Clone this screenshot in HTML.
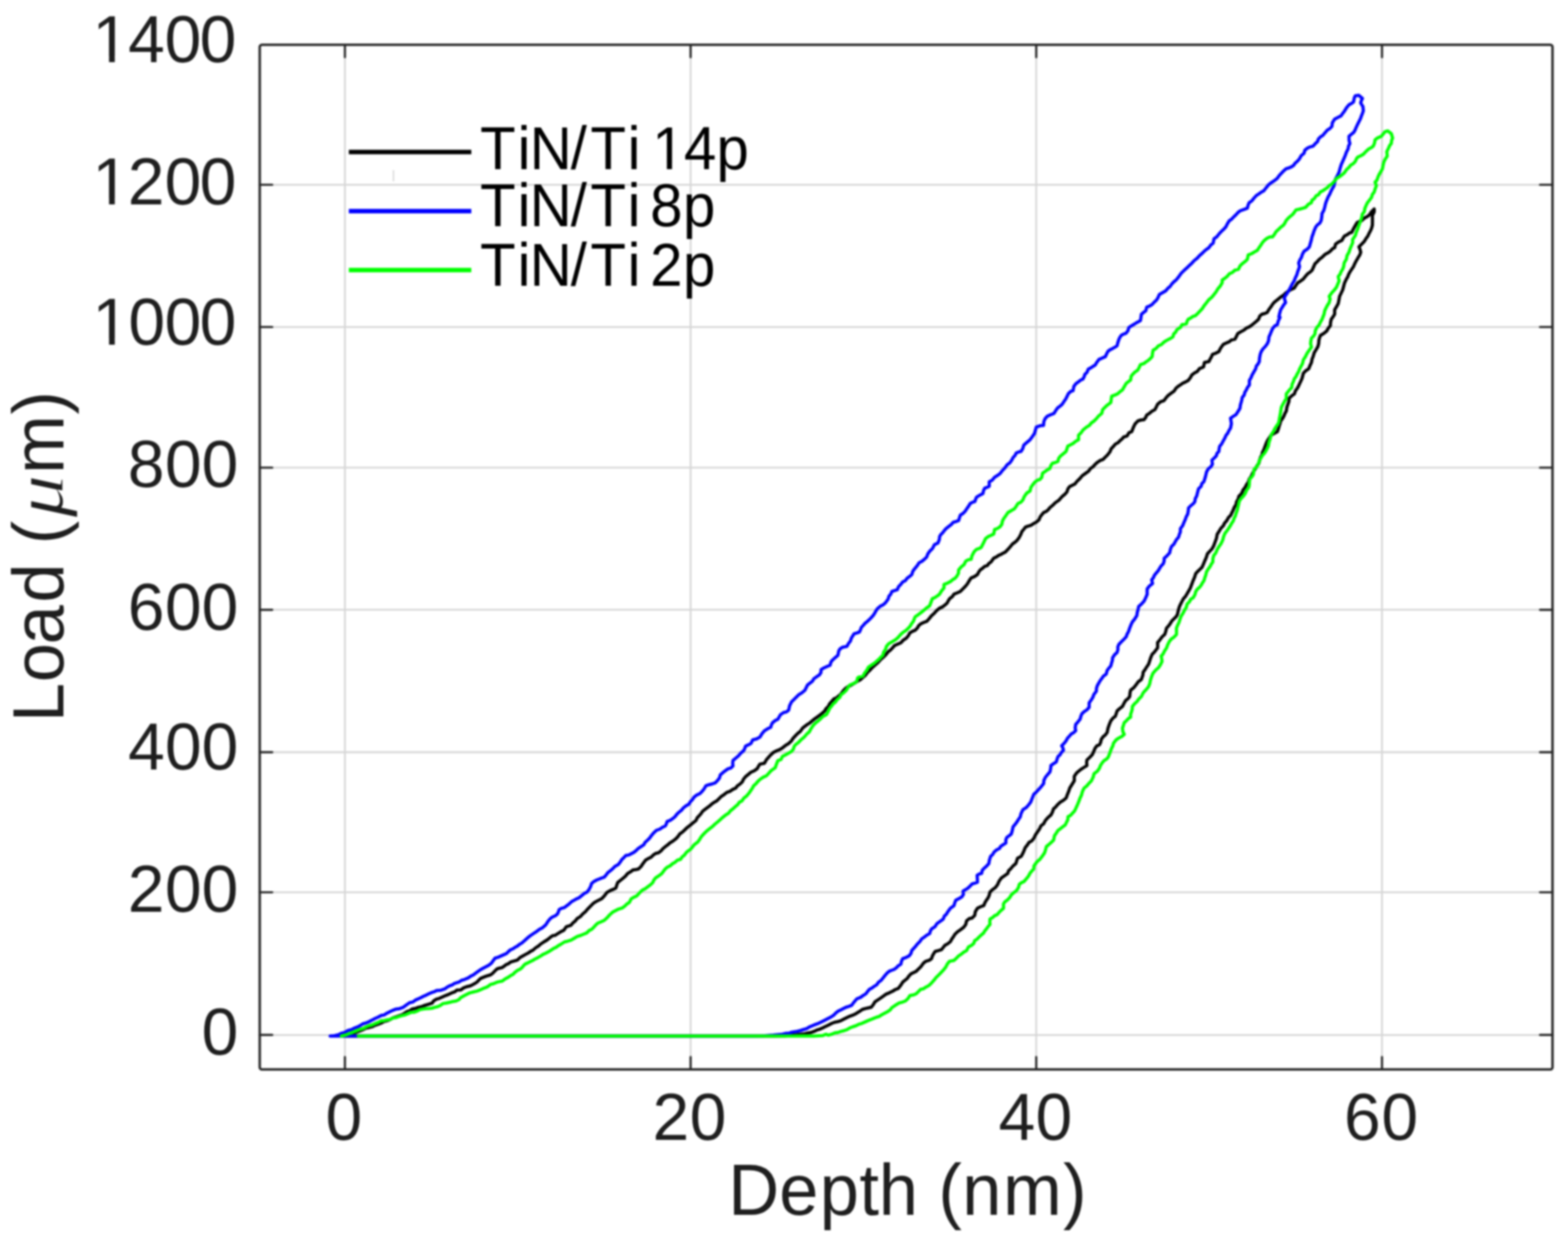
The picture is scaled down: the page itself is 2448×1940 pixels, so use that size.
<!DOCTYPE html>
<html lang="en"><head><meta charset="utf-8"><title>Load vs Depth</title>
<style>html,body{margin:0;padding:0;background:#fff;}body{width:2448px;height:1940px;overflow:hidden;}svg{display:block;}text{font-family:"Liberation Sans",sans-serif;fill:#1e1e1e;font-kerning:none;}.tk{font-size:103px;}.al{font-size:110px;}.lg{font-size:91px;fill:#000;}.mu{font-family:"Liberation Serif",serif;font-style:italic;font-size:104px;stroke:#fff;stroke-width:1.2px;paint-order:fill stroke;}</style></head><body>
<svg xmlns="http://www.w3.org/2000/svg" width="2448" height="1940" viewBox="0 0 2448 1940">
<defs><filter id="b" x="-2%" y="-2%" width="104%" height="104%" color-interpolation-filters="sRGB"><feGaussianBlur stdDeviation="1.4"/></filter></defs>
<rect x="0" y="0" width="2448" height="1940" fill="#ffffff"/>
<g filter="url(#b)">
<rect x="-20" y="-20" width="2488" height="1980" fill="#ffffff"/>
<g stroke="#d6d6d6" stroke-width="2.8" fill="none">
<line x1="538.5" y1="69.8" x2="538.5" y2="1669.2"/>
<line x1="1078.2" y1="69.8" x2="1078.2" y2="1669.2"/>
<line x1="1617.8" y1="69.8" x2="1617.8" y2="1669.2"/>
<line x1="2157.6" y1="69.8" x2="2157.6" y2="1669.2"/>
<line x1="405.5" y1="288.4" x2="2423.8" y2="288.4"/>
<line x1="405.5" y1="510.4" x2="2423.8" y2="510.4"/>
<line x1="405.5" y1="729.9" x2="2423.8" y2="729.9"/>
<line x1="405.5" y1="951.7" x2="2423.8" y2="951.7"/>
<line x1="405.5" y1="1174.0" x2="2423.8" y2="1174.0"/>
<line x1="405.5" y1="1392.6" x2="2423.8" y2="1392.6"/>
<line x1="405.5" y1="1615.3" x2="2423.8" y2="1615.3"/>
</g>
<path d="M536.0,1617.0 L541.0,1615.8 L548.1,1613.5 L553.6,1611.8 L557.5,1610.7 L562.1,1609.0 L566.4,1607.2 L571.5,1604.6 L576.2,1603.7 L581.4,1602.3 L585.2,1600.3 L590.2,1598.7 L595.2,1596.7 L599.5,1594.3 L604.3,1593.1 L609.2,1591.2 L613.8,1588.4 L618.3,1587.2 L623.8,1585.2 L627.5,1584.0 L632.4,1580.9 L635.8,1578.6 L639.4,1577.7 L643.9,1574.7 L649.3,1573.7 L653.4,1572.1 L657.7,1571.2 L662.0,1569.5 L667.5,1567.8 L674.5,1565.7 L677.0,1562.2 L681.5,1559.4 L685.6,1558.3 L691.8,1555.5 L695.6,1553.8 L700.7,1551.8 L705.2,1549.7 L709.6,1548.2 L713.4,1545.2 L719.2,1545.1 L723.7,1541.9 L728.5,1540.0 L734.0,1538.7 L737.7,1536.9 L741.3,1535.0 L744.7,1532.7 L747.5,1529.8 L750.3,1527.1 L753.8,1525.6 L758.8,1523.6 L765.8,1521.5 L769.3,1518.9 L772.8,1515.2 L776.1,1512.1 L779.8,1511.0 L783.3,1510.4 L786.9,1508.1 L790.2,1505.6 L793.9,1503.9 L796.8,1501.7 L800.9,1500.4 L807.9,1498.3 L811.3,1494.9 L814.9,1492.7 L820.0,1489.9 L824.7,1487.4 L828.0,1485.1 L832.1,1483.0 L836.0,1479.5 L840.8,1476.4 L844.0,1473.5 L849.2,1470.0 L854.2,1467.0 L859.0,1463.1 L862.6,1460.4 L866.8,1459.8 L870.2,1457.5 L875.3,1454.3 L880.1,1451.9 L884.3,1446.3 L891.3,1444.2 L894.5,1440.4 L897.7,1437.8 L901.1,1433.7 L906.1,1430.5 L909.6,1426.6 L914.0,1422.8 L918.0,1418.2 L922.2,1414.0 L926.4,1409.8 L929.6,1407.6 L933.4,1405.6 L939.5,1402.5 L943.3,1398.5 L947.5,1392.9 L952.0,1390.3 L956.4,1388.4 L961.5,1385.9 L963.1,1381.0 L964.3,1377.5 L968.1,1374.4 L971.3,1371.9 L976.3,1367.7 L979.8,1363.4 L984.8,1360.4 L988.2,1357.8 L992.3,1357.3 L996.6,1356.4 L1000.7,1352.5 L1003.7,1348.0 L1007.9,1342.4 L1011.5,1340.3 L1016.3,1338.1 L1020.5,1333.9 L1024.3,1331.8 L1027.7,1331.1 L1031.7,1328.3 L1035.1,1324.4 L1038.8,1321.3 L1042.6,1318.5 L1045.8,1315.7 L1050.7,1312.6 L1055.6,1308.7 L1058.7,1305.3 L1061.2,1301.6 L1065.9,1298.3 L1069.7,1294.6 L1073.6,1290.9 L1078.1,1287.6 L1082.0,1284.2 L1086.5,1280.6 L1088.8,1275.9 L1092.2,1272.4 L1094.9,1269.3 L1096.5,1266.7 L1100.0,1263.7 L1103.6,1261.0 L1108.0,1257.8 L1111.4,1254.7 L1114.7,1252.4 L1119.0,1250.0 L1122.6,1246.4 L1126.3,1242.8 L1130.2,1240.3 L1134.9,1236.6 L1139.5,1235.1 L1144.3,1231.9 L1148.6,1230.0 L1151.0,1226.7 L1155.5,1223.5 L1158.9,1220.2 L1160.7,1216.2 L1163.9,1212.2 L1169.1,1208.0 L1172.4,1205.2 L1177.5,1203.0 L1182.2,1199.6 L1183.9,1196.4 L1186.4,1192.6 L1193.4,1191.2 L1196.4,1185.9 L1200.4,1181.3 L1203.6,1177.9 L1207.5,1174.3 L1213.1,1171.5 L1217.3,1169.9 L1221.5,1167.3 L1226.0,1163.7 L1231.3,1160.3 L1235.6,1156.3 L1238.2,1152.2 L1242.6,1147.6 L1245.9,1144.3 L1249.8,1141.2 L1253.2,1136.2 L1256.6,1133.6 L1259.7,1131.2 L1264.0,1128.5 L1267.9,1125.2 L1271.7,1122.0 L1275.9,1119.1 L1279.1,1116.7 L1282.3,1114.3 L1287.5,1109.7 L1289.4,1106.2 L1293.6,1102.1 L1295.1,1098.6 L1298.8,1094.3 L1301.8,1090.8 L1306.1,1089.0 L1310.0,1085.8 L1313.4,1082.5 L1316.3,1078.3 L1319.8,1074.6 L1323.9,1071.7 L1329.5,1069.0 L1334.1,1066.1 L1338.2,1063.6 L1343.2,1060.8 L1347.0,1057.3 L1351.0,1054.0 L1354.7,1049.1 L1358.7,1045.4 L1362.1,1041.6 L1366.9,1037.4 L1370.4,1034.4 L1374.3,1030.0 L1378.3,1026.4 L1383.0,1021.9 L1386.7,1017.3 L1390.2,1014.6 L1393.9,1010.6 L1396.6,1007.5 L1401.2,1005.5 L1406.4,1003.3 L1410.6,998.8 L1414.8,996.2 L1418.3,992.0 L1420.4,987.8 L1425.0,985.1 L1428.9,983.6 L1432.3,980.0 L1434.4,976.3 L1437.3,973.8 L1442.1,971.5 L1447.1,969.6 L1450.6,965.6 L1454.2,961.1 L1458.4,957.4 L1462.6,952.7 L1466.6,949.4 L1471.0,947.4 L1475.2,944.3 L1478.7,941.2 L1480.8,937.2 L1482.8,934.2 L1487.2,930.7 L1489.3,927.4 L1493.9,925.5 L1499.1,923.2 L1503.1,919.3 L1507.5,914.8 L1510.3,911.3 L1513.4,906.0 L1516.0,902.1 L1521.3,899.9 L1526.1,896.6 L1527.9,892.9 L1530.3,889.6 L1532.9,887.7 L1537.5,883.9 L1541.6,882.6 L1543.5,879.7 L1547.2,877.0 L1551.4,871.3 L1555.6,869.2 L1559.4,866.6 L1562.3,865.5 L1566.9,862.9 L1569.7,861.5 L1573.7,857.3 L1577.8,852.6 L1580.9,848.9 L1584.2,846.6 L1587.9,843.3 L1591.3,838.7 L1593.8,833.9 L1595.4,829.6 L1598.4,826.0 L1601.1,822.6 L1604.5,821.3 L1609.5,819.8 L1614.2,816.9 L1617.9,814.9 L1622.1,811.3 L1623.9,806.9 L1626.5,803.3 L1629.2,800.1 L1633.3,798.2 L1636.2,795.9 L1639.3,792.1 L1643.2,788.9 L1647.4,784.7 L1653.1,780.8 L1655.8,777.6 L1658.7,774.5 L1662.7,771.2 L1665.7,767.8 L1667.3,763.0 L1669.9,759.4 L1674.4,757.2 L1678.3,755.2 L1681.2,751.5 L1686.2,746.6 L1689.6,742.5 L1694.3,739.1 L1699.4,735.5 L1702.5,731.3 L1706.4,728.5 L1710.1,724.3 L1713.4,721.5 L1717.8,718.6 L1721.9,717.2 L1725.3,713.7 L1728.9,710.2 L1733.0,705.0 L1734.7,700.5 L1738.7,696.2 L1741.4,693.1 L1745.5,690.9 L1748.5,687.8 L1752.2,684.6 L1754.2,682.1 L1759.7,680.3 L1762.5,675.4 L1766.8,673.7 L1768.2,670.2 L1769.6,666.7 L1772.0,661.8 L1776.6,656.9 L1781.3,655.5 L1786.1,654.9 L1788.5,651.9 L1790.3,647.9 L1794.3,645.2 L1798.4,641.9 L1803.0,639.4 L1805.1,635.5 L1807.2,631.0 L1811.8,627.1 L1817.0,625.4 L1820.8,620.4 L1824.0,617.0 L1829.7,612.8 L1833.0,610.4 L1836.2,605.6 L1839.5,602.9 L1842.4,601.0 L1846.7,598.0 L1850.9,596.1 L1855.1,593.8 L1858.4,589.5 L1860.7,585.3 L1864.8,582.1 L1869.2,579.7 L1872.5,575.4 L1879.0,572.7 L1880.4,565.7 L1887.4,564.3 L1889.3,560.4 L1891.4,556.7 L1893.0,553.0 L1898.0,551.3 L1902.9,548.8 L1904.8,544.9 L1906.7,541.8 L1909.9,537.6 L1914.1,535.5 L1919.1,533.4 L1922.5,530.6 L1928.1,529.2 L1930.2,525.3 L1932.4,520.7 L1936.6,518.1 L1942.2,515.1 L1946.0,512.0 L1950.4,510.1 L1953.4,508.1 L1958.0,504.4 L1961.9,501.1 L1965.0,498.2 L1966.8,493.3 L1969.9,490.5 L1974.0,489.5 L1978.3,487.7 L1980.9,483.2 L1983.9,479.3 L1987.0,474.6 L1989.2,472.0 L1992.4,469.4 L1996.3,466.3 L1999.3,463.6 L2003.6,461.0 L2007.1,457.5 L2012.0,454.0 L2015.9,451.7 L2020.4,449.8 L2022.9,446.0 L2026.1,441.3 L2030.2,438.8 L2034.5,435.7 L2038.2,431.1 L2041.5,427.3 L2045.3,424.7 L2048.5,421.7 L2050.8,416.6 L2052.8,411.9 L2056.1,408.7 L2059.8,404.8 L2064.1,401.6 L2066.6,399.0 L2069.6,396.4 L2073.5,394.5 L2076.6,392.2 L2080.7,388.0 L2083.7,386.6 L2085.1,381.0 L2089.7,377.7 L2094.9,375.3 L2096.9,371.5 L2099.1,368.3 L2102.5,366.8 L2107.5,363.2 L2110.3,362.7 L2113.1,357.1 L2115.8,352.3 L2118.8,347.2 L2122.3,345.7 L2125.8,344.4 L2130.0,340.5 L2135.6,337.4 L2138.8,334.4 L2141.2,330.4 L2145.4,326.2 L2145.4,330.7 L2142.6,336.3 L2142.7,340.9 L2142.7,346.3 L2142.6,351.5 L2141.5,355.7 L2139.8,359.9 L2137.4,364.2 L2135.6,368.3 L2132.2,372.9 L2130.0,376.7 L2126.4,380.4 L2121.6,385.2 L2123.2,388.9 L2124.4,393.6 L2123.0,397.8 L2120.5,401.6 L2118.8,404.8 L2116.7,408.3 L2114.7,412.3 L2113.1,416.1 L2110.2,420.4 L2107.5,424.5 L2105.3,428.6 L2104.3,431.7 L2101.9,435.7 L2099.1,441.7 L2097.7,447.0 L2096.2,452.5 L2093.5,458.2 L2091.4,462.5 L2090.7,466.6 L2089.3,473.7 L2087.2,477.6 L2083.7,483.5 L2083.7,490.5 L2081.3,494.2 L2078.4,498.3 L2077.3,503.4 L2077.0,508.1 L2073.6,512.5 L2071.4,516.5 L2067.1,520.1 L2061.6,523.5 L2060.2,526.9 L2059.1,531.0 L2058.8,536.2 L2057.5,541.0 L2054.6,546.0 L2051.9,550.3 L2050.3,555.8 L2048.4,560.6 L2047.5,565.7 L2044.8,571.4 L2043.3,575.5 L2038.7,578.6 L2034.9,582.5 L2033.6,587.5 L2032.7,590.7 L2030.7,595.2 L2028.9,599.0 L2027.2,602.8 L2025.1,606.4 L2022.5,610.0 L2020.8,614.8 L2016.7,617.8 L2012.4,621.9 L2012.4,626.1 L2011.0,630.3 L2009.1,635.7 L2008.2,641.5 L2006.1,645.2 L2004.9,648.3 L2002.6,652.8 L1999.5,657.1 L1998.4,661.2 L1996.9,665.5 L1995.8,669.5 L1994.2,673.8 L1989.6,676.2 L1984.3,679.4 L1982.0,682.8 L1979.1,687.2 L1977.3,690.7 L1975.5,695.3 L1973.1,701.9 L1970.9,706.1 L1970.3,709.8 L1968.1,713.5 L1966.5,718.3 L1965.5,722.7 L1962.5,727.0 L1960.2,731.2 L1957.4,735.5 L1955.3,739.3 L1953.1,744.2 L1950.4,747.5 L1948.9,752.6 L1946.4,755.8 L1944.0,760.4 L1940.7,764.8 L1938.4,770.2 L1934.2,774.4 L1933.1,778.8 L1930.4,783.5 L1929.8,787.4 L1927.2,791.3 L1925.3,796.0 L1923.3,800.1 L1921.6,803.9 L1917.9,807.7 L1915.3,812.5 L1911.7,816.6 L1909.9,820.6 L1906.1,824.4 L1903.3,829.2 L1900.3,833.9 L1899.1,840.4 L1897.2,845.5 L1894.9,851.7 L1892.2,856.6 L1888.2,860.9 L1885.1,864.3 L1883.1,870.5 L1880.8,875.6 L1878.6,881.0 L1876.6,885.4 L1872.9,889.0 L1869.8,891.9 L1866.8,895.2 L1865.0,900.9 L1862.6,906.5 L1860.4,912.4 L1858.4,917.7 L1856.0,921.9 L1852.8,927.5 L1850.6,931.1 L1847.9,934.0 L1845.2,938.9 L1842.6,944.1 L1840.9,948.1 L1839.4,953.7 L1838.1,959.3 L1835.9,962.8 L1832.8,965.8 L1829.4,969.2 L1826.9,973.4 L1823.9,977.4 L1821.2,980.4 L1819.9,985.8 L1818.4,990.2 L1814.2,994.0 L1810.7,998.9 L1807.2,1002.9 L1807.4,1007.1 L1807.2,1011.3 L1804.7,1014.5 L1801.6,1018.5 L1798.8,1021.1 L1796.4,1026.8 L1794.6,1032.4 L1793.2,1036.6 L1790.3,1040.8 L1787.9,1044.7 L1784.7,1049.2 L1784.3,1053.7 L1781.9,1060.4 L1777.1,1064.1 L1773.5,1068.9 L1770.1,1073.3 L1765.1,1077.3 L1764.2,1081.6 L1763.7,1087.1 L1761.0,1090.5 L1757.7,1092.9 L1755.2,1097.0 L1752.4,1102.6 L1747.7,1106.2 L1744.0,1109.6 L1742.7,1113.9 L1741.2,1118.0 L1737.6,1120.7 L1734.2,1125.1 L1732.1,1130.2 L1729.9,1136.3 L1728.5,1143.3 L1725.5,1147.1 L1722.1,1150.0 L1719.3,1154.0 L1718.4,1158.4 L1716.5,1162.5 L1712.7,1163.8 L1709.5,1168.1 L1707.4,1173.3 L1705.3,1177.9 L1701.6,1181.8 L1696.9,1186.3 L1696.5,1190.3 L1696.9,1194.8 L1692.6,1197.5 L1687.4,1200.9 L1682.8,1204.6 L1680.1,1207.3 L1677.2,1211.6 L1677.2,1218.7 L1675.0,1222.1 L1672.4,1226.4 L1670.2,1229.9 L1668.6,1234.7 L1666.0,1241.1 L1664.6,1245.3 L1660.1,1249.1 L1654.7,1252.4 L1650.5,1256.6 L1647.5,1260.1 L1644.9,1262.2 L1642.9,1267.8 L1640.7,1272.0 L1636.2,1275.8 L1632.2,1280.4 L1629.3,1285.7 L1625.2,1288.9 L1622.7,1294.2 L1619.6,1298.7 L1616.6,1303.0 L1614.0,1308.5 L1610.6,1312.6 L1606.5,1314.8 L1604.2,1318.4 L1600.4,1323.3 L1598.5,1328.2 L1596.9,1331.8 L1594.3,1336.6 L1588.7,1339.4 L1587.1,1344.3 L1585.9,1347.9 L1581.6,1351.5 L1577.5,1356.3 L1574.7,1358.8 L1573.3,1363.3 L1568.7,1366.5 L1563.4,1370.3 L1559.7,1375.4 L1557.4,1380.8 L1554.0,1385.3 L1549.5,1388.5 L1545.6,1392.3 L1544.2,1397.9 L1542.5,1401.5 L1540.0,1404.9 L1538.0,1408.3 L1535.8,1413.4 L1531.3,1415.0 L1526.0,1417.6 L1522.7,1422.9 L1521.7,1428.8 L1517.7,1432.7 L1513.1,1433.8 L1509.1,1437.2 L1507.7,1442.9 L1504.5,1447.2 L1499.3,1451.3 L1494.9,1454.3 L1490.8,1458.3 L1488.0,1462.8 L1486.0,1465.5 L1483.8,1469.6 L1479.4,1473.1 L1475.4,1475.2 L1472.3,1479.0 L1469.8,1482.2 L1465.0,1483.7 L1459.9,1485.0 L1457.4,1488.8 L1455.7,1492.0 L1454.3,1496.2 L1450.9,1498.6 L1445.4,1500.3 L1441.7,1503.3 L1437.5,1508.9 L1434.1,1512.3 L1430.4,1515.9 L1426.2,1518.0 L1422.0,1520.1 L1418.5,1524.0 L1416.4,1527.1 L1413.0,1529.9 L1409.4,1532.8 L1406.0,1538.1 L1402.4,1542.6 L1397.7,1544.5 L1393.6,1547.0 L1388.3,1549.6 L1383.3,1551.6 L1379.0,1554.7 L1374.4,1558.0 L1369.9,1561.0 L1366.0,1563.6 L1363.2,1568.3 L1360.3,1572.0 L1355.8,1573.0 L1350.8,1574.1 L1346.3,1575.5 L1341.7,1578.7 L1336.5,1581.9 L1331.3,1584.4 L1326.6,1586.1 L1322.0,1588.2 L1316.5,1591.0 L1312.6,1593.1 L1308.0,1594.5 L1303.0,1595.5 L1298.5,1597.3 L1293.7,1599.8 L1289.1,1601.9 L1284.5,1604.3 L1279.6,1606.4 L1275.2,1607.7 L1270.4,1609.9 L1266.1,1611.5 L1261.5,1612.2 L1256.4,1613.5 L1242.4,1614.9 L1226.4,1616.7 L1208.4,1617.0 L540.0,1617.0" fill="none" stroke="#000000" stroke-width="5" stroke-linejoin="round" stroke-linecap="round"/>
<path d="M517.0,1617.0 L522.0,1616.4 L528.4,1614.9 L533.2,1612.6 L538.3,1611.4 L543.6,1608.2 L548.1,1607.2 L552.6,1604.9 L557.9,1602.9 L562.1,1600.8 L566.3,1598.0 L571.1,1596.7 L576.2,1594.5 L580.9,1592.1 L585.2,1589.7 L590.2,1587.5 L595.4,1584.8 L599.6,1584.1 L604.3,1581.2 L609.2,1578.8 L614.0,1576.6 L618.3,1574.9 L623.9,1574.2 L629.6,1572.1 L635.4,1567.7 L639.4,1565.0 L644.4,1563.9 L648.5,1560.9 L653.4,1558.7 L657.7,1556.7 L660.4,1555.2 L665.4,1553.1 L668.9,1551.2 L674.5,1548.9 L677.9,1547.9 L681.5,1546.1 L688.5,1545.4 L694.3,1543.4 L697.7,1540.9 L702.6,1538.3 L706.2,1537.1 L709.6,1534.8 L716.6,1532.7 L720.6,1530.0 L725.0,1528.8 L730.7,1526.4 L734.9,1523.6 L739.1,1521.5 L744.7,1517.3 L749.0,1514.2 L753.6,1511.5 L758.8,1508.8 L762.7,1506.7 L767.2,1503.2 L770.2,1499.0 L772.8,1495.5 L777.2,1494.2 L782.4,1491.9 L786.9,1489.9 L790.7,1488.2 L793.9,1485.0 L796.8,1482.5 L800.9,1480.8 L803.5,1478.9 L807.9,1476.5 L811.2,1473.8 L814.9,1471.6 L818.9,1468.2 L823.6,1463.8 L828.1,1460.3 L832.9,1457.0 L836.5,1454.7 L842.1,1450.5 L846.4,1448.3 L852.0,1443.5 L855.3,1438.3 L859.0,1433.7 L862.4,1431.2 L866.9,1429.3 L870.2,1426.6 L871.9,1423.0 L873.0,1419.6 L876.0,1417.9 L881.3,1416.4 L884.3,1414.0 L888.4,1410.9 L892.7,1407.0 L896.2,1405.1 L899.6,1403.1 L903.9,1401.3 L908.2,1397.8 L912.4,1394.3 L916.3,1392.5 L919.4,1388.7 L922.1,1383.6 L923.6,1378.9 L927.4,1375.7 L932.0,1373.3 L937.2,1371.2 L943.3,1369.0 L946.3,1365.6 L948.9,1362.0 L952.5,1359.3 L955.9,1356.4 L960.0,1352.3 L965.2,1349.4 L968.5,1345.2 L970.9,1341.4 L973.9,1338.6 L977.0,1335.3 L981.8,1334.4 L985.4,1332.5 L989.7,1330.3 L993.4,1327.3 L996.6,1324.1 L1001.1,1321.2 L1005.1,1318.5 L1007.0,1314.9 L1010.7,1311.5 L1014.4,1307.9 L1016.0,1305.4 L1019.1,1301.6 L1022.0,1298.6 L1024.7,1296.0 L1030.2,1294.0 L1034.5,1291.0 L1038.8,1289.0 L1040.4,1285.7 L1041.6,1282.0 L1046.2,1280.4 L1050.0,1277.8 L1053.8,1274.6 L1056.9,1270.6 L1059.8,1267.9 L1063.7,1264.8 L1066.9,1260.9 L1070.9,1257.7 L1075.3,1255.3 L1078.1,1250.9 L1081.1,1247.9 L1083.7,1244.0 L1087.5,1241.0 L1092.8,1238.4 L1096.5,1234.7 L1099.8,1230.4 L1102.1,1226.3 L1106.9,1224.7 L1112.0,1223.5 L1116.5,1221.9 L1120.4,1217.9 L1123.2,1214.4 L1124.6,1209.4 L1129.5,1205.1 L1133.0,1202.4 L1136.7,1199.9 L1141.1,1198.6 L1144.3,1195.4 L1143.9,1191.2 L1144.3,1187.0 L1148.8,1183.2 L1152.7,1179.9 L1156.6,1175.4 L1161.1,1171.5 L1163.0,1167.6 L1163.9,1164.5 L1168.7,1162.4 L1172.4,1160.3 L1175.2,1154.7 L1181.2,1153.3 L1186.4,1150.4 L1189.6,1145.1 L1193.4,1140.6 L1198.6,1137.3 L1203.3,1135.0 L1204.3,1131.4 L1206.1,1128.0 L1210.4,1124.5 L1214.5,1122.4 L1216.4,1119.1 L1218.7,1115.3 L1223.6,1112.0 L1227.8,1111.1 L1231.3,1108.3 L1232.8,1101.3 L1235.7,1095.6 L1239.8,1091.5 L1243.5,1087.7 L1246.8,1084.4 L1251.8,1081.4 L1256.6,1077.4 L1258.6,1073.3 L1260.8,1069.0 L1264.4,1066.2 L1268.3,1063.3 L1270.7,1059.2 L1275.0,1056.2 L1279.1,1053.5 L1281.7,1049.6 L1281.9,1045.1 L1286.8,1042.2 L1291.7,1040.0 L1296.0,1038.1 L1297.1,1033.9 L1298.8,1031.1 L1303.2,1027.0 L1308.1,1022.9 L1309.5,1015.9 L1311.6,1012.6 L1315.1,1010.3 L1322.1,1008.9 L1324.9,1004.0 L1327.8,1000.4 L1329.0,996.3 L1330.8,993.3 L1333.4,989.2 L1337.1,988.2 L1341.8,986.4 L1343.7,982.3 L1344.6,979.4 L1347.9,975.9 L1350.6,972.7 L1354.4,969.6 L1358.5,965.7 L1362.9,961.1 L1365.7,956.8 L1367.3,953.9 L1369.9,949.9 L1374.7,945.9 L1378.3,944.3 L1381.8,941.4 L1383.9,938.7 L1386.8,934.6 L1387.7,930.9 L1390.8,927.1 L1392.4,923.2 L1395.4,922.1 L1400.8,920.4 L1402.8,915.7 L1406.4,912.0 L1409.3,908.2 L1413.4,906.3 L1416.2,902.6 L1419.9,899.8 L1423.6,896.6 L1424.8,892.4 L1426.4,889.6 L1429.1,886.3 L1432.5,882.2 L1434.8,878.4 L1439.4,876.0 L1443.3,872.8 L1446.7,869.4 L1448.7,864.2 L1451.7,860.1 L1455.9,856.0 L1458.7,850.3 L1464.3,847.5 L1466.5,842.1 L1467.0,837.4 L1468.5,834.8 L1471.7,831.6 L1474.2,828.2 L1477.0,825.0 L1481.4,821.6 L1485.0,818.7 L1488.2,815.2 L1492.6,814.0 L1496.6,812.4 L1498.1,807.6 L1499.4,803.9 L1503.3,801.5 L1506.5,798.3 L1509.3,794.1 L1512.0,790.3 L1514.9,785.7 L1518.8,783.6 L1521.9,782.9 L1523.2,779.1 L1524.7,775.8 L1529.2,773.2 L1534.6,770.2 L1535.5,765.8 L1537.4,761.8 L1541.0,760.6 L1544.4,759.0 L1544.4,752.0 L1548.8,749.6 L1552.8,744.9 L1556.8,742.3 L1561.2,739.3 L1564.1,735.4 L1568.3,730.9 L1572.5,725.3 L1576.6,722.4 L1579.5,718.3 L1581.5,714.4 L1584.8,710.7 L1586.5,707.0 L1590.8,705.3 L1594.0,704.6 L1596.8,700.2 L1598.3,694.8 L1601.8,691.6 L1604.7,689.2 L1608.1,686.3 L1611.7,681.4 L1615.1,676.5 L1616.4,671.7 L1617.9,666.7 L1624.2,664.3 L1629.2,663.9 L1629.7,657.9 L1631.6,653.5 L1634.8,649.8 L1638.7,647.9 L1642.4,646.5 L1645.7,645.1 L1648.4,640.5 L1651.3,636.6 L1654.9,633.9 L1658.3,631.0 L1661.3,626.4 L1663.9,622.6 L1666.4,617.6 L1668.1,614.2 L1672.3,610.5 L1675.2,609.9 L1676.6,602.9 L1679.8,598.8 L1683.6,595.9 L1687.5,593.0 L1690.6,591.7 L1692.9,587.4 L1693.4,584.7 L1697.3,580.7 L1699.0,576.2 L1702.6,574.3 L1706.1,572.0 L1710.0,569.7 L1711.7,566.4 L1715.9,560.8 L1719.7,559.3 L1725.7,556.6 L1728.0,551.6 L1729.9,548.1 L1733.8,545.4 L1737.0,543.9 L1740.6,541.9 L1744.0,539.7 L1745.1,535.1 L1746.8,529.9 L1748.4,526.5 L1751.0,522.9 L1754.2,521.4 L1758.0,520.1 L1761.1,515.9 L1762.2,511.6 L1765.9,508.8 L1770.7,506.0 L1775.2,503.2 L1780.5,500.4 L1781.3,495.5 L1781.9,490.6 L1785.5,487.5 L1788.9,484.9 L1790.3,479.3 L1794.8,477.7 L1798.8,475.1 L1802.0,471.6 L1805.8,468.1 L1807.9,464.5 L1810.0,459.7 L1815.5,456.5 L1819.8,454.0 L1823.4,449.8 L1826.9,447.0 L1829.2,443.5 L1832.5,440.0 L1836.8,436.3 L1840.5,431.6 L1844.3,426.2 L1848.5,422.2 L1852.7,418.4 L1856.5,414.7 L1860.7,410.8 L1864.5,406.6 L1868.8,403.2 L1872.5,399.2 L1876.7,395.5 L1880.0,392.2 L1884.0,388.8 L1887.1,386.8 L1890.7,382.1 L1894.0,379.6 L1895.4,372.5 L1899.4,369.9 L1902.3,366.3 L1905.1,362.9 L1908.1,359.9 L1910.5,357.8 L1913.7,354.3 L1916.3,349.1 L1919.3,344.4 L1922.5,342.3 L1926.5,338.1 L1929.4,335.4 L1933.2,331.3 L1936.2,329.0 L1942.2,326.8 L1947.4,324.8 L1948.5,320.4 L1950.2,316.3 L1954.4,313.5 L1957.8,309.1 L1961.5,305.1 L1964.8,303.0 L1969.4,299.7 L1972.7,298.1 L1975.2,295.0 L1978.3,291.1 L1980.7,288.2 L1985.1,284.8 L1988.1,282.9 L1993.7,278.7 L1996.3,275.2 L1999.3,271.7 L2004.0,266.8 L2007.8,263.3 L2012.5,262.0 L2016.2,260.4 L2019.6,258.2 L2021.8,254.8 L2025.5,251.6 L2028.8,247.8 L2031.5,242.9 L2035.8,239.4 L2037.2,234.5 L2040.3,231.8 L2044.3,229.6 L2049.9,228.1 L2053.9,223.7 L2056.9,221.1 L2058.3,216.9 L2061.7,213.4 L2065.3,211.3 L2068.1,207.8 L2072.4,202.9 L2075.9,200.9 L2079.4,197.2 L2080.1,191.6 L2083.6,186.0 L2089.1,183.1 L2093.4,181.1 L2095.3,178.3 L2099.0,173.4 L2102.4,167.9 L2106.1,163.5 L2109.9,161.5 L2113.1,159.3 L2114.5,152.3 L2115.9,149.5 L2121.5,148.8 L2127.1,153.7 L2125.4,157.0 L2124.3,160.7 L2127.8,166.3 L2128.5,172.7 L2127.2,176.6 L2125.7,180.4 L2124.0,185.1 L2121.5,190.2 L2119.2,194.7 L2117.3,198.7 L2115.4,203.4 L2113.1,207.1 L2109.5,209.8 L2106.1,212.7 L2106.2,219.1 L2107.5,223.9 L2105.4,228.2 L2104.7,232.4 L2102.1,237.4 L2100.4,242.2 L2098.7,246.3 L2096.2,252.0 L2094.0,256.8 L2092.0,263.3 L2090.6,268.7 L2087.8,274.5 L2084.9,279.8 L2083.6,285.7 L2082.4,290.7 L2080.5,293.8 L2078.0,298.4 L2075.8,303.4 L2073.8,306.8 L2071.5,312.2 L2069.6,317.3 L2068.2,323.4 L2066.7,328.6 L2064.0,333.2 L2063.5,339.1 L2062.6,344.4 L2060.3,348.5 L2057.0,350.8 L2054.2,354.3 L2051.5,360.4 L2049.9,365.5 L2048.3,369.7 L2047.1,375.3 L2045.6,380.3 L2044.3,385.2 L2040.5,389.2 L2035.9,392.2 L2033.4,396.7 L2031.7,402.0 L2029.4,405.6 L2027.5,410.4 L2028.9,416.1 L2027.4,420.5 L2026.1,423.7 L2024.7,428.7 L2022.0,434.3 L2020.4,438.5 L2017.1,443.8 L2014.8,448.4 L2012.3,453.1 L2009.2,458.2 L2006.6,461.8 L2005.0,465.2 L2007.1,472.2 L2004.1,475.9 L2002.0,479.4 L1999.4,483.5 L1997.9,488.9 L1996.6,494.7 L1998.4,495.4 L1995.6,501.0 L1994.2,506.7 L1990.3,508.6 L1987.1,512.3 L1984.9,517.1 L1982.9,522.1 L1981.2,525.8 L1980.5,531.8 L1978.7,536.2 L1975.5,540.6 L1971.7,544.6 L1969.0,548.9 L1967.5,553.0 L1966.3,559.7 L1966.1,564.3 L1963.9,568.3 L1961.5,571.2 L1960.4,575.5 L1957.4,580.8 L1954.8,585.3 L1953.0,589.7 L1950.6,593.8 L1950.6,600.8 L1947.4,605.1 L1945.5,609.1 L1943.6,612.0 L1942.4,616.6 L1939.4,620.4 L1938.5,625.4 L1936.6,631.7 L1935.8,637.4 L1932.4,642.9 L1929.6,647.1 L1925.8,649.5 L1921.1,652.8 L1921.8,656.4 L1922.5,661.2 L1921.1,668.2 L1918.7,672.0 L1916.6,676.4 L1914.1,679.4 L1912.2,683.8 L1909.9,687.9 L1907.1,693.1 L1904.3,696.3 L1903.3,701.1 L1902.9,704.7 L1900.0,707.5 L1899.1,711.2 L1895.8,714.7 L1892.1,718.3 L1892.9,724.5 L1890.7,728.1 L1886.4,731.8 L1883.7,736.5 L1882.2,743.0 L1880.8,747.8 L1879.5,751.7 L1876.4,754.8 L1875.2,759.0 L1871.1,763.1 L1869.6,768.8 L1868.4,773.9 L1866.1,778.2 L1865.4,782.9 L1862.9,786.2 L1858.7,789.7 L1855.6,792.7 L1855.1,797.7 L1854.2,802.5 L1852.0,806.5 L1850.5,810.7 L1848.5,815.2 L1846.4,820.5 L1842.9,825.0 L1842.8,830.2 L1841.5,833.4 L1840.0,838.4 L1837.0,841.8 L1834.5,846.1 L1832.8,849.2 L1828.9,853.1 L1827.2,857.6 L1826.1,862.9 L1822.0,867.3 L1817.6,871.3 L1817.5,875.5 L1816.2,879.8 L1812.6,883.4 L1810.6,886.8 L1808.3,890.6 L1804.9,894.6 L1802.2,898.0 L1800.8,901.5 L1798.0,905.1 L1799.4,910.7 L1794.5,914.6 L1791.0,919.1 L1790.9,922.4 L1791.0,927.5 L1788.9,932.5 L1786.1,938.3 L1782.2,942.6 L1777.7,946.7 L1776.6,952.2 L1775.5,955.7 L1774.9,960.7 L1771.5,966.1 L1767.9,970.6 L1765.8,975.0 L1763.7,980.4 L1761.9,985.6 L1759.4,990.2 L1758.4,993.6 L1755.2,997.2 L1751.1,1001.2 L1746.8,1005.7 L1745.1,1009.9 L1745.4,1013.6 L1744.0,1018.3 L1740.1,1021.9 L1737.0,1026.7 L1736.7,1030.6 L1735.4,1034.7 L1734.2,1039.4 L1731.4,1042.6 L1728.5,1046.4 L1727.1,1052.0 L1722.4,1055.6 L1720.1,1059.0 L1718.0,1061.7 L1715.3,1066.3 L1713.1,1070.3 L1711.8,1074.4 L1711.7,1078.7 L1707.9,1083.7 L1706.1,1088.5 L1703.9,1092.1 L1700.4,1097.0 L1700.4,1104.0 L1696.7,1108.0 L1693.0,1110.3 L1689.2,1113.8 L1687.4,1118.1 L1686.4,1122.2 L1682.8,1126.8 L1679.4,1130.7 L1678.6,1136.1 L1679.4,1140.5 L1675.9,1143.6 L1672.5,1145.5 L1669.6,1148.9 L1666.7,1152.0 L1664.2,1156.4 L1661.7,1159.7 L1657.5,1163.9 L1659.5,1167.5 L1660.3,1170.9 L1657.3,1174.0 L1655.0,1178.0 L1651.9,1180.7 L1650.3,1184.9 L1649.1,1189.2 L1644.5,1192.1 L1640.7,1194.8 L1640.5,1198.2 L1639.3,1204.6 L1635.9,1208.5 L1632.2,1213.0 L1629.7,1218.1 L1629.4,1222.9 L1625.9,1227.3 L1622.4,1231.3 L1617.5,1236.6 L1614.0,1239.7 L1612.6,1243.1 L1611.2,1246.7 L1609.1,1252.0 L1605.6,1256.6 L1601.8,1260.7 L1597.1,1263.6 L1594.0,1270.0 L1592.9,1274.8 L1589.9,1279.2 L1587.3,1283.3 L1585.0,1286.4 L1581.7,1290.3 L1580.4,1296.3 L1578.9,1301.5 L1575.3,1304.6 L1571.9,1307.1 L1570.3,1310.8 L1570.4,1315.6 L1565.7,1318.6 L1562.0,1321.2 L1560.6,1324.1 L1555.4,1326.8 L1552.2,1329.6 L1549.9,1333.5 L1546.6,1336.6 L1544.6,1342.8 L1543.8,1347.9 L1540.2,1351.8 L1536.7,1354.9 L1533.6,1358.3 L1532.5,1363.3 L1529.3,1363.8 L1525.5,1366.1 L1525.9,1371.7 L1526.0,1376.9 L1521.8,1378.4 L1517.5,1379.7 L1514.1,1383.4 L1510.5,1386.7 L1506.8,1388.8 L1503.5,1390.9 L1504.2,1395.7 L1502.1,1399.3 L1497.5,1402.3 L1492.2,1404.9 L1490.5,1409.3 L1489.4,1413.4 L1483.8,1417.6 L1479.6,1423.2 L1477.1,1427.4 L1474.5,1429.5 L1472.6,1434.4 L1467.4,1438.3 L1462.8,1441.5 L1459.8,1446.2 L1454.3,1449.9 L1452.4,1453.3 L1451.5,1456.9 L1446.8,1459.6 L1443.1,1462.5 L1439.1,1465.2 L1436.1,1469.6 L1431.9,1473.8 L1429.3,1477.1 L1426.2,1480.5 L1423.4,1483.6 L1422.3,1487.9 L1419.2,1492.0 L1414.1,1494.6 L1409.4,1496.2 L1407.2,1500.8 L1406.6,1504.7 L1402.7,1507.1 L1399.6,1510.3 L1395.9,1513.0 L1391.7,1514.5 L1388.3,1515.9 L1385.0,1518.7 L1381.3,1522.9 L1378.9,1526.0 L1375.7,1529.9 L1371.5,1533.0 L1368.8,1536.9 L1364.7,1539.5 L1360.9,1542.3 L1357.5,1543.9 L1354.8,1547.1 L1351.9,1551.0 L1347.3,1553.9 L1343.5,1556.6 L1337.6,1559.0 L1333.7,1563.6 L1329.4,1569.2 L1324.8,1570.9 L1321.0,1572.0 L1316.9,1574.1 L1312.6,1576.2 L1308.7,1578.0 L1304.9,1581.0 L1301.3,1584.7 L1296.9,1587.5 L1291.5,1590.3 L1286.8,1592.8 L1282.3,1595.1 L1277.5,1597.3 L1273.0,1598.9 L1267.4,1601.2 L1263.4,1602.9 L1259.5,1605.3 L1254.0,1607.0 L1249.4,1608.5 L1244.5,1609.7 L1239.7,1610.5 L1235.3,1611.3 L1231.7,1612.7 L1226.7,1612.8 L1221.3,1614.2 L1207.3,1615.6 L1191.3,1616.7 L1173.3,1617.0 L515.5,1617.0" fill="none" stroke="#0000ff" stroke-width="5" stroke-linejoin="round" stroke-linecap="round"/>
<path d="M533.0,1617.0 L537.5,1615.8 L541.1,1614.9 L544.2,1613.5 L548.1,1612.1 L553.0,1610.1 L558.0,1608.1 L562.1,1606.5 L567.5,1605.1 L570.9,1603.0 L576.2,1600.8 L580.7,1599.7 L585.3,1597.7 L590.2,1595.9 L595.2,1593.1 L598.6,1593.2 L604.3,1591.7 L608.9,1591.1 L613.7,1588.7 L618.3,1588.2 L623.2,1586.4 L627.6,1585.1 L632.4,1584.0 L637.2,1581.9 L641.2,1580.1 L646.4,1579.8 L652.2,1577.6 L655.3,1575.9 L660.4,1574.9 L664.8,1574.2 L670.1,1574.0 L674.5,1573.5 L678.9,1572.1 L682.9,1571.3 L687.1,1569.5 L691.3,1566.4 L697.0,1565.5 L702.6,1564.3 L706.3,1563.2 L712.1,1562.2 L716.6,1560.1 L718.8,1557.3 L723.7,1554.5 L728.5,1552.1 L733.5,1549.6 L738.8,1548.3 L744.7,1546.8 L749.7,1544.9 L753.9,1542.9 L758.8,1541.2 L762.3,1539.3 L765.9,1536.4 L770.0,1535.5 L775.3,1533.2 L779.3,1532.1 L784.0,1531.3 L788.8,1527.7 L793.9,1525.0 L797.4,1522.5 L800.9,1520.8 L803.7,1517.8 L807.9,1514.5 L812.1,1512.5 L814.9,1510.3 L817.5,1506.9 L820.0,1504.6 L823.9,1502.9 L828.0,1500.7 L831.7,1499.0 L836.0,1496.4 L840.0,1494.4 L844.0,1492.1 L847.7,1489.6 L852.0,1487.7 L856.1,1485.6 L860.0,1483.1 L864.2,1480.3 L868.0,1478.6 L871.6,1476.0 L876.0,1473.5 L881.5,1470.0 L885.4,1469.2 L891.3,1467.4 L896.3,1464.5 L901.1,1461.7 L906.4,1460.0 L912.4,1457.5 L915.9,1456.1 L920.0,1452.1 L923.6,1450.5 L927.2,1446.9 L929.9,1443.8 L933.4,1440.7 L938.3,1438.7 L943.3,1436.5 L947.8,1432.4 L951.7,1428.0 L956.2,1423.8 L961.5,1421.0 L965.8,1418.8 L971.3,1417.2 L975.6,1414.0 L978.4,1411.2 L982.6,1408.4 L985.4,1402.8 L989.5,1400.4 L993.8,1398.5 L997.1,1395.1 L1000.2,1391.6 L1003.7,1388.7 L1007.3,1387.1 L1010.7,1384.5 L1015.7,1380.7 L1019.1,1377.5 L1020.7,1373.8 L1023.3,1370.4 L1027.8,1367.4 L1033.1,1363.4 L1035.5,1360.2 L1038.1,1356.7 L1041.6,1353.6 L1045.9,1351.5 L1050.0,1348.0 L1053.8,1345.8 L1057.4,1342.7 L1062.6,1341.0 L1065.0,1337.4 L1068.4,1334.7 L1071.1,1331.1 L1073.7,1328.5 L1078.1,1325.5 L1080.3,1322.9 L1083.7,1318.5 L1089.3,1314.3 L1092.3,1310.1 L1094.9,1305.8 L1097.4,1303.0 L1100.0,1300.2 L1104.0,1296.4 L1108.0,1293.3 L1112.3,1290.0 L1116.0,1286.4 L1120.3,1282.9 L1124.0,1279.6 L1128.3,1275.7 L1132.0,1272.7 L1137.8,1268.9 L1140.0,1265.8 L1143.7,1262.8 L1148.0,1258.9 L1152.0,1255.5 L1154.0,1252.3 L1158.3,1250.0 L1161.5,1245.4 L1165.7,1242.2 L1169.6,1237.5 L1172.4,1233.4 L1174.5,1230.4 L1176.6,1226.3 L1180.5,1222.9 L1182.7,1220.1 L1186.4,1216.5 L1191.8,1212.9 L1196.7,1210.7 L1200.4,1206.6 L1203.6,1203.0 L1206.7,1200.8 L1210.3,1198.2 L1212.6,1191.7 L1214.5,1187.0 L1219.4,1185.3 L1221.6,1180.4 L1225.7,1178.5 L1230.5,1175.9 L1235.6,1172.9 L1238.5,1169.5 L1240.1,1164.4 L1242.6,1161.7 L1246.6,1158.8 L1249.9,1155.2 L1253.8,1151.9 L1257.2,1148.4 L1259.8,1145.4 L1263.7,1142.0 L1265.2,1138.9 L1267.8,1134.7 L1270.7,1130.8 L1273.6,1128.1 L1277.1,1125.4 L1280.5,1122.4 L1285.0,1118.0 L1290.3,1115.3 L1293.0,1110.4 L1295.2,1105.6 L1298.8,1101.3 L1300.7,1098.5 L1304.4,1095.7 L1307.0,1091.9 L1311.3,1088.2 L1312.8,1084.4 L1317.2,1081.2 L1321.2,1077.4 L1323.9,1072.9 L1326.9,1069.0 L1332.6,1066.8 L1337.6,1063.7 L1339.0,1058.0 L1341.7,1056.5 L1347.4,1055.2 L1350.0,1050.2 L1353.6,1045.6 L1355.8,1041.2 L1360.4,1038.1 L1364.3,1035.6 L1368.2,1032.4 L1372.7,1028.5 L1375.1,1025.6 L1378.3,1022.9 L1379.6,1017.8 L1382.4,1013.8 L1383.9,1008.9 L1387.5,1004.7 L1392.4,1001.9 L1397.8,998.7 L1400.8,996.2 L1403.6,993.2 L1406.9,989.5 L1410.6,986.4 L1414.3,984.1 L1417.0,981.4 L1420.4,978.0 L1423.1,973.6 L1426.1,969.6 L1427.4,965.8 L1428.9,962.5 L1434.0,959.1 L1438.7,955.5 L1442.5,952.3 L1446.8,948.6 L1451.3,945.7 L1453.3,940.5 L1455.6,934.4 L1459.4,932.7 L1463.8,929.7 L1466.8,927.4 L1470.0,922.1 L1473.8,917.6 L1473.8,912.0 L1478.8,910.3 L1483.7,907.8 L1487.8,904.3 L1490.9,902.7 L1493.8,899.4 L1496.4,894.6 L1496.6,889.6 L1500.8,884.6 L1505.1,881.2 L1507.9,875.6 L1511.7,873.6 L1516.3,872.8 L1517.2,868.1 L1519.1,864.3 L1521.1,860.7 L1524.7,857.3 L1528.4,856.2 L1531.7,854.5 L1534.0,850.3 L1536.9,844.3 L1538.8,840.4 L1542.8,837.4 L1546.7,835.8 L1551.4,833.4 L1552.8,826.4 L1556.9,825.0 L1561.2,822.2 L1564.1,818.2 L1564.9,813.7 L1566.9,809.6 L1570.3,804.9 L1573.9,799.7 L1578.4,797.2 L1583.7,794.1 L1586.4,790.4 L1589.3,785.7 L1593.7,783.9 L1596.9,780.4 L1598.9,775.5 L1601.1,772.0 L1603.7,769.0 L1608.1,766.4 L1609.5,760.6 L1612.3,756.6 L1615.6,752.5 L1619.3,749.6 L1623.2,748.4 L1626.3,745.3 L1627.8,738.3 L1631.4,736.1 L1634.4,733.7 L1639.0,731.3 L1640.7,726.5 L1643.2,722.9 L1646.5,722.2 L1651.6,720.1 L1652.9,715.2 L1655.8,711.6 L1660.0,708.2 L1664.3,704.6 L1665.8,700.4 L1667.1,696.2 L1670.8,694.4 L1675.5,692.0 L1679.8,688.4 L1683.9,686.3 L1683.9,679.3 L1688.2,674.9 L1691.0,670.9 L1696.3,666.6 L1700.8,663.9 L1703.8,660.1 L1707.7,657.4 L1711.7,653.5 L1715.1,649.3 L1720.1,645.1 L1721.5,639.4 L1724.5,636.2 L1728.5,632.4 L1734.2,628.2 L1734.9,623.0 L1735.6,618.4 L1741.6,616.2 L1745.4,614.2 L1749.4,610.7 L1752.4,608.5 L1755.1,603.7 L1758.0,598.7 L1761.6,595.7 L1765.1,593.1 L1766.0,587.3 L1767.9,584.7 L1771.8,580.7 L1776.3,577.6 L1778.3,573.8 L1780.5,569.2 L1785.8,567.4 L1788.9,565.0 L1792.7,562.5 L1795.8,559.7 L1798.8,556.6 L1799.3,551.5 L1800.2,546.7 L1804.5,544.1 L1808.6,539.7 L1813.2,537.7 L1817.0,534.1 L1819.9,532.1 L1824.0,529.9 L1827.7,528.0 L1831.1,525.7 L1832.5,521.2 L1835.3,518.7 L1837.5,514.5 L1843.1,510.8 L1845.3,506.7 L1852.3,505.3 L1853.1,501.9 L1855.1,498.3 L1858.7,496.5 L1862.4,493.9 L1866.3,492.6 L1869.6,489.5 L1873.4,485.6 L1876.9,481.8 L1879.7,477.4 L1883.6,472.5 L1887.0,468.0 L1891.9,463.8 L1895.4,459.6 L1898.4,455.7 L1901.1,451.2 L1904.9,446.7 L1908.1,441.3 L1908.1,437.1 L1912.5,434.1 L1915.4,431.8 L1919.3,427.3 L1924.0,425.2 L1928.3,421.5 L1933.4,420.3 L1936.2,414.7 L1939.6,411.4 L1944.0,408.1 L1947.4,404.8 L1948.8,397.8 L1953.9,396.0 L1958.7,393.1 L1962.9,390.8 L1965.7,386.5 L1968.1,383.1 L1971.3,378.1 L1974.2,375.0 L1978.3,371.8 L1982.7,369.7 L1986.7,369.7 L1989.9,365.4 L1992.4,361.3 L1996.2,357.9 L1999.1,354.9 L2003.6,351.5 L2005.8,348.5 L2007.8,344.4 L2011.6,340.1 L2014.8,337.4 L2018.2,334.6 L2020.9,331.1 L2023.3,327.6 L2028.5,326.5 L2034.5,324.8 L2038.5,323.5 L2042.8,318.8 L2047.1,316.6 L2048.5,312.4 L2051.6,310.3 L2054.8,305.6 L2058.3,304.0 L2061.1,299.8 L2065.6,297.6 L2068.4,295.5 L2072.4,292.8 L2075.4,289.4 L2079.4,287.1 L2083.4,282.7 L2086.4,278.7 L2090.9,275.9 L2094.8,273.1 L2098.1,270.4 L2100.4,267.5 L2102.3,264.6 L2105.9,261.4 L2108.9,257.6 L2112.5,255.6 L2115.9,252.0 L2117.9,247.5 L2120.1,245.0 L2124.2,243.2 L2128.5,240.8 L2132.6,236.4 L2137.0,232.4 L2141.2,230.2 L2144.0,228.1 L2145.9,223.3 L2146.8,218.3 L2151.0,215.1 L2156.6,212.7 L2159.3,209.4 L2162.2,205.7 L2166.5,204.3 L2172.1,208.5 L2174.2,215.5 L2172.7,219.0 L2172.1,223.9 L2169.5,227.2 L2167.9,231.0 L2165.1,236.6 L2165.8,243.6 L2162.2,249.2 L2160.4,253.2 L2159.4,257.6 L2158.3,263.4 L2155.2,268.9 L2152.7,273.1 L2151.0,277.3 L2149.7,281.2 L2146.8,284.3 L2148.9,289.9 L2147.1,294.2 L2145.4,299.8 L2142.5,303.8 L2141.2,308.2 L2137.0,313.8 L2134.9,316.4 L2132.8,320.6 L2130.8,325.5 L2130.0,330.4 L2126.8,334.5 L2125.8,340.2 L2123.7,346.1 L2121.6,351.5 L2119.6,357.6 L2117.4,362.7 L2116.3,366.9 L2113.5,371.3 L2111.7,373.9 L2111.9,378.6 L2110.3,382.4 L2107.8,388.2 L2106.1,393.6 L2103.0,399.1 L2101.9,404.8 L2098.6,410.3 L2097.7,416.1 L2096.1,420.3 L2093.5,424.5 L2092.2,428.0 L2089.3,431.5 L2090.7,438.5 L2088.6,443.3 L2086.5,448.4 L2083.2,452.6 L2079.4,456.8 L2075.2,462.4 L2076.6,466.6 L2075.1,472.4 L2072.4,476.5 L2070.5,480.1 L2068.2,484.9 L2067.1,490.5 L2065.4,494.7 L2063.8,498.8 L2061.6,502.5 L2059.3,507.4 L2056.0,510.9 L2053.3,516.6 L2053.1,520.7 L2050.8,524.5 L2047.5,527.8 L2046.6,532.1 L2046.1,536.2 L2047.5,541.8 L2044.4,546.0 L2040.5,551.6 L2038.1,556.6 L2034.9,561.5 L2033.5,567.4 L2030.7,572.7 L2028.7,576.5 L2027.3,580.3 L2025.1,583.9 L2023.5,587.4 L2020.7,591.2 L2019.4,595.2 L2017.3,599.7 L2016.6,605.0 L2014.0,607.5 L2010.4,612.0 L2008.2,614.8 L2008.2,621.9 L2005.2,626.8 L2002.6,631.7 L2000.6,635.4 L1999.8,640.1 L1999.0,645.2 L1998.4,648.5 L1997.7,651.9 L1996.8,657.5 L1995.6,661.2 L1993.1,664.8 L1989.9,669.6 L1987.8,674.2 L1985.7,676.6 L1983.9,681.0 L1982.9,685.1 L1981.2,690.1 L1980.1,696.3 L1977.8,701.1 L1975.9,704.7 L1973.9,707.6 L1970.7,711.2 L1968.7,714.6 L1966.0,719.1 L1965.1,722.5 L1962.4,728.2 L1958.1,732.3 L1957.2,737.2 L1956.7,740.7 L1954.5,744.1 L1951.1,747.8 L1950.6,751.8 L1950.3,757.1 L1949.7,760.4 L1946.4,764.7 L1944.0,770.2 L1941.0,774.5 L1937.0,778.7 L1934.7,782.4 L1933.8,786.8 L1932.8,791.3 L1931.6,796.5 L1930.0,800.8 L1928.6,805.3 L1926.4,809.6 L1925.6,812.7 L1923.0,816.6 L1920.3,821.4 L1918.8,823.7 L1916.0,827.8 L1912.3,832.6 L1910.3,837.6 L1908.9,843.0 L1906.1,848.9 L1903.2,852.9 L1900.5,857.3 L1898.1,863.0 L1894.9,867.1 L1893.6,871.9 L1893.5,877.0 L1891.3,880.2 L1889.3,884.0 L1885.9,888.7 L1883.7,892.4 L1882.4,897.7 L1880.8,902.2 L1879.8,905.9 L1877.4,909.6 L1875.2,913.5 L1872.4,917.0 L1869.6,919.3 L1866.8,923.3 L1865.5,928.3 L1862.6,933.1 L1859.0,935.2 L1856.6,939.7 L1853.5,942.5 L1852.0,948.0 L1849.3,952.3 L1846.8,957.4 L1843.9,961.8 L1842.3,966.3 L1840.9,970.8 L1838.5,975.8 L1836.7,980.4 L1836.8,986.1 L1836.7,990.2 L1832.4,994.7 L1828.6,997.4 L1825.4,1001.5 L1823.0,1006.4 L1821.2,1011.3 L1818.2,1015.8 L1815.7,1020.9 L1812.8,1023.9 L1813.7,1028.1 L1814.2,1032.4 L1811.6,1037.6 L1808.6,1042.2 L1804.3,1045.9 L1800.2,1050.6 L1797.7,1056.4 L1796.0,1061.9 L1795.0,1067.1 L1793.1,1071.7 L1790.3,1075.3 L1787.3,1078.4 L1784.7,1081.5 L1782.0,1087.0 L1777.7,1091.3 L1775.1,1095.0 L1771.3,1098.4 L1767.9,1102.6 L1767.7,1106.6 L1766.5,1111.0 L1765.1,1115.0 L1765.1,1119.4 L1761.9,1121.2 L1757.8,1125.6 L1755.2,1127.9 L1753.9,1132.1 L1752.4,1136.3 L1753.1,1142.0 L1755.2,1146.1 L1751.6,1149.3 L1746.3,1152.1 L1742.6,1154.6 L1738.4,1160.0 L1737.5,1163.9 L1735.4,1168.0 L1733.9,1171.8 L1732.5,1176.0 L1730.0,1182.1 L1727.3,1184.9 L1723.7,1187.1 L1720.7,1190.6 L1717.8,1195.3 L1716.5,1199.0 L1713.1,1203.7 L1708.1,1207.4 L1706.7,1212.8 L1703.9,1218.7 L1700.1,1222.6 L1696.3,1227.0 L1692.6,1229.9 L1689.9,1235.3 L1688.4,1241.1 L1686.2,1245.7 L1684.2,1251.0 L1682.6,1254.9 L1680.0,1260.8 L1677.8,1265.5 L1674.4,1269.2 L1671.1,1272.8 L1667.4,1274.8 L1667.2,1279.2 L1665.0,1283.5 L1663.1,1287.5 L1659.7,1290.1 L1655.3,1293.4 L1651.9,1295.9 L1648.9,1300.6 L1646.3,1304.3 L1644.9,1311.3 L1641.6,1314.4 L1637.6,1318.0 L1633.7,1321.2 L1632.2,1326.7 L1630.8,1331.0 L1627.4,1336.1 L1623.8,1340.8 L1619.4,1344.7 L1616.8,1347.9 L1614.3,1351.5 L1613.9,1356.3 L1611.2,1359.1 L1608.2,1362.7 L1605.6,1367.5 L1602.3,1371.6 L1598.5,1376.0 L1595.2,1377.4 L1591.5,1380.0 L1590.0,1385.3 L1586.7,1390.3 L1582.1,1393.7 L1578.7,1396.9 L1576.5,1400.7 L1572.9,1404.4 L1569.0,1407.4 L1566.7,1410.6 L1566.7,1417.6 L1563.3,1420.5 L1560.5,1423.2 L1556.9,1427.4 L1552.5,1429.4 L1549.8,1432.0 L1545.6,1434.4 L1545.3,1438.9 L1545.6,1442.9 L1542.6,1446.1 L1540.0,1449.9 L1537.1,1453.4 L1535.8,1456.0 L1531.6,1459.7 L1528.5,1462.5 L1524.9,1466.2 L1521.7,1468.1 L1520.3,1472.4 L1516.6,1475.6 L1511.9,1478.0 L1509.1,1483.6 L1504.7,1486.0 L1500.9,1489.1 L1496.5,1492.0 L1492.7,1495.9 L1489.4,1499.0 L1482.4,1500.4 L1479.1,1504.4 L1476.8,1508.9 L1473.7,1513.1 L1469.8,1517.3 L1466.0,1521.2 L1461.3,1525.7 L1458.3,1529.7 L1454.3,1534.2 L1450.2,1538.1 L1444.5,1541.2 L1441.3,1543.4 L1437.5,1544.0 L1434.2,1547.3 L1430.4,1551.0 L1426.4,1552.7 L1420.6,1553.8 L1417.8,1558.2 L1413.6,1562.2 L1409.6,1563.8 L1403.7,1565.4 L1399.6,1567.9 L1396.8,1569.7 L1392.3,1572.8 L1389.8,1576.2 L1385.1,1579.3 L1380.0,1581.9 L1375.9,1584.2 L1372.7,1586.3 L1368.8,1587.5 L1364.6,1589.1 L1359.6,1591.2 L1354.7,1593.1 L1350.3,1595.1 L1345.4,1597.3 L1340.7,1598.7 L1336.1,1601.0 L1331.4,1602.5 L1326.6,1604.3 L1322.5,1606.8 L1318.0,1608.5 L1312.6,1609.9 L1307.9,1611.5 L1303.4,1612.0 L1298.5,1614.2 L1293.4,1615.7 L1289.2,1614.2 L1284.5,1616.3 L1270.5,1617.0 L1254.5,1616.7 L1236.5,1617.0 L559.5,1617.0" fill="none" stroke="#00ff00" stroke-width="5" stroke-linejoin="round" stroke-linecap="round"/>
<g stroke="#262626" stroke-width="3.8" fill="none" stroke-linecap="butt">
<rect x="405.5" y="69.8" width="2018.3" height="1599.4" rx="3.5" ry="3.5"/>
</g>
<g stroke="#262626" stroke-width="3.4" fill="none" stroke-linecap="round">
<line x1="538.5" y1="1669.2" x2="538.5" y2="1649.7"/>
<line x1="538.5" y1="69.8" x2="538.5" y2="89.3"/>
<line x1="1078.2" y1="1669.2" x2="1078.2" y2="1649.7"/>
<line x1="1078.2" y1="69.8" x2="1078.2" y2="89.3"/>
<line x1="1617.8" y1="1669.2" x2="1617.8" y2="1649.7"/>
<line x1="1617.8" y1="69.8" x2="1617.8" y2="89.3"/>
<line x1="2157.6" y1="1669.2" x2="2157.6" y2="1649.7"/>
<line x1="2157.6" y1="69.8" x2="2157.6" y2="89.3"/>
<line x1="405.5" y1="288.4" x2="425.0" y2="288.4"/>
<line x1="2423.8" y1="288.4" x2="2404.3" y2="288.4"/>
<line x1="405.5" y1="510.4" x2="425.0" y2="510.4"/>
<line x1="2423.8" y1="510.4" x2="2404.3" y2="510.4"/>
<line x1="405.5" y1="729.9" x2="425.0" y2="729.9"/>
<line x1="2423.8" y1="729.9" x2="2404.3" y2="729.9"/>
<line x1="405.5" y1="951.7" x2="425.0" y2="951.7"/>
<line x1="2423.8" y1="951.7" x2="2404.3" y2="951.7"/>
<line x1="405.5" y1="1174.0" x2="425.0" y2="1174.0"/>
<line x1="2423.8" y1="1174.0" x2="2404.3" y2="1174.0"/>
<line x1="405.5" y1="1392.6" x2="425.0" y2="1392.6"/>
<line x1="2423.8" y1="1392.6" x2="2404.3" y2="1392.6"/>
<line x1="405.5" y1="1615.3" x2="425.0" y2="1615.3"/>
<line x1="2423.8" y1="1615.3" x2="2404.3" y2="1615.3"/>
</g>
<text class="tk" transform="translate(0,96.60) scale(1,1.0150)" x="144.2 200.1 256.9 311.7" y="0">1400</text>
<text class="tk" transform="translate(0,318.90) scale(1,1.0150)" x="144.2 199.6 256.9 311.7" y="0">1200</text>
<text class="tk" transform="translate(0,537.80) scale(1,1.0150)" x="144.2 200.6 256.9 311.7" y="0">1000</text>
<text class="tk" transform="translate(0,760.20) scale(1,1.0150)" x="199.6 257.4 314.8" y="0">800</text>
<text class="tk" transform="translate(0,982.50) scale(1,1.0150)" x="199.6 257.4 314.8" y="0">600</text>
<text class="tk" transform="translate(0,1201.20) scale(1,1.0150)" x="200.1 257.4 314.8" y="0">400</text>
<text class="tk" transform="translate(0,1423.20) scale(1,1.0150)" x="199.6 257.4 314.8" y="0">200</text>
<text class="tk" transform="translate(0,1646.20) scale(1,1.0150)" x="314.8" y="0">0</text>
<text class="tk" transform="translate(0,1779.30) scale(1,1.0150)" x="508.3" y="0">0</text>
<text class="tk" transform="translate(0,1779.30) scale(1,1.0150)" x="1018.8 1076.7" y="0">20</text>
<text class="tk" transform="translate(0,1779.30) scale(1,1.0150)" x="1558.9 1616.7" y="0">40</text>
<text class="tk" transform="translate(0,1779.30) scale(1,1.0150)" x="2098.2 2156.7" y="0">60</text>
<text class="lg" transform="translate(0,264.10) scale(1,1.0450)" x="749.4 808.0 827.1 890.9 921.7 979.8 1025.3 1018.3 1067.7 1118.5" y="0">TiN/Ti 14p</text>
<text class="lg" transform="translate(0,353.20) scale(1,1.0450)" x="749.4 808.0 827.1 890.9 921.7 979.8 1025.3 1014.9 1066.2" y="0">TiN/Ti 8p</text>
<text class="lg" transform="translate(0,445.70) scale(1,1.0450)" x="749.4 808.0 827.1 890.9 921.7 979.8 1025.3 1014.9 1066.2" y="0">TiN/Ti 2p</text>
<text class="al" transform="translate(0,1895.60) scale(1,1.0300)" x="1137.1 1216.4 1279.8 1341.8 1372.1 1427.1 1465.0 1502.3 1566.0 1659.8" y="0">Depth (nm)</text>
<text class="al" transform="translate(99.00,1200.00) rotate(-90) scale(1,1.0300)" x="73.1 135.3 194.3 259.6 314.6 350.4 460.2 552.9" y="0">Load (m)</text>
<rect x="149.24" y="87.7" width="21.01" height="12.9" fill="#ffffff"/>
<rect x="179.22" y="87.7" width="20.03" height="12.9" fill="#ffffff"/>
<rect x="149.24" y="310.0" width="21.01" height="12.9" fill="#ffffff"/>
<rect x="179.22" y="310.0" width="20.03" height="12.9" fill="#ffffff"/>
<rect x="149.24" y="528.9" width="21.01" height="12.9" fill="#ffffff"/>
<rect x="179.22" y="528.9" width="20.03" height="12.9" fill="#ffffff"/>
<rect x="1022.33" y="256.0" width="18.81" height="12.1" fill="#ffffff"/>
<rect x="1049.17" y="256.0" width="18.16" height="12.1" fill="#ffffff"/>
<text class="mu" transform="translate(97.63,1200.00) rotate(-90) translate(392.56,0) scale(1.2709,1.0305)" x="0" y="0">μ</text>
<line x1="544.6" y1="237.3" x2="735.8" y2="237.3" stroke="#000000" stroke-width="7" stroke-linecap="butt"/>
<line x1="544.6" y1="329.6" x2="735.8" y2="329.6" stroke="#0000ff" stroke-width="7" stroke-linecap="butt"/>
<line x1="544.6" y1="421.4" x2="735.8" y2="421.4" stroke="#00ff00" stroke-width="7" stroke-linecap="butt"/>
<line x1="614.3" y1="265.5" x2="614.3" y2="283" stroke="#dddddd" stroke-width="2.6"/>
</g>
</svg></body></html>
